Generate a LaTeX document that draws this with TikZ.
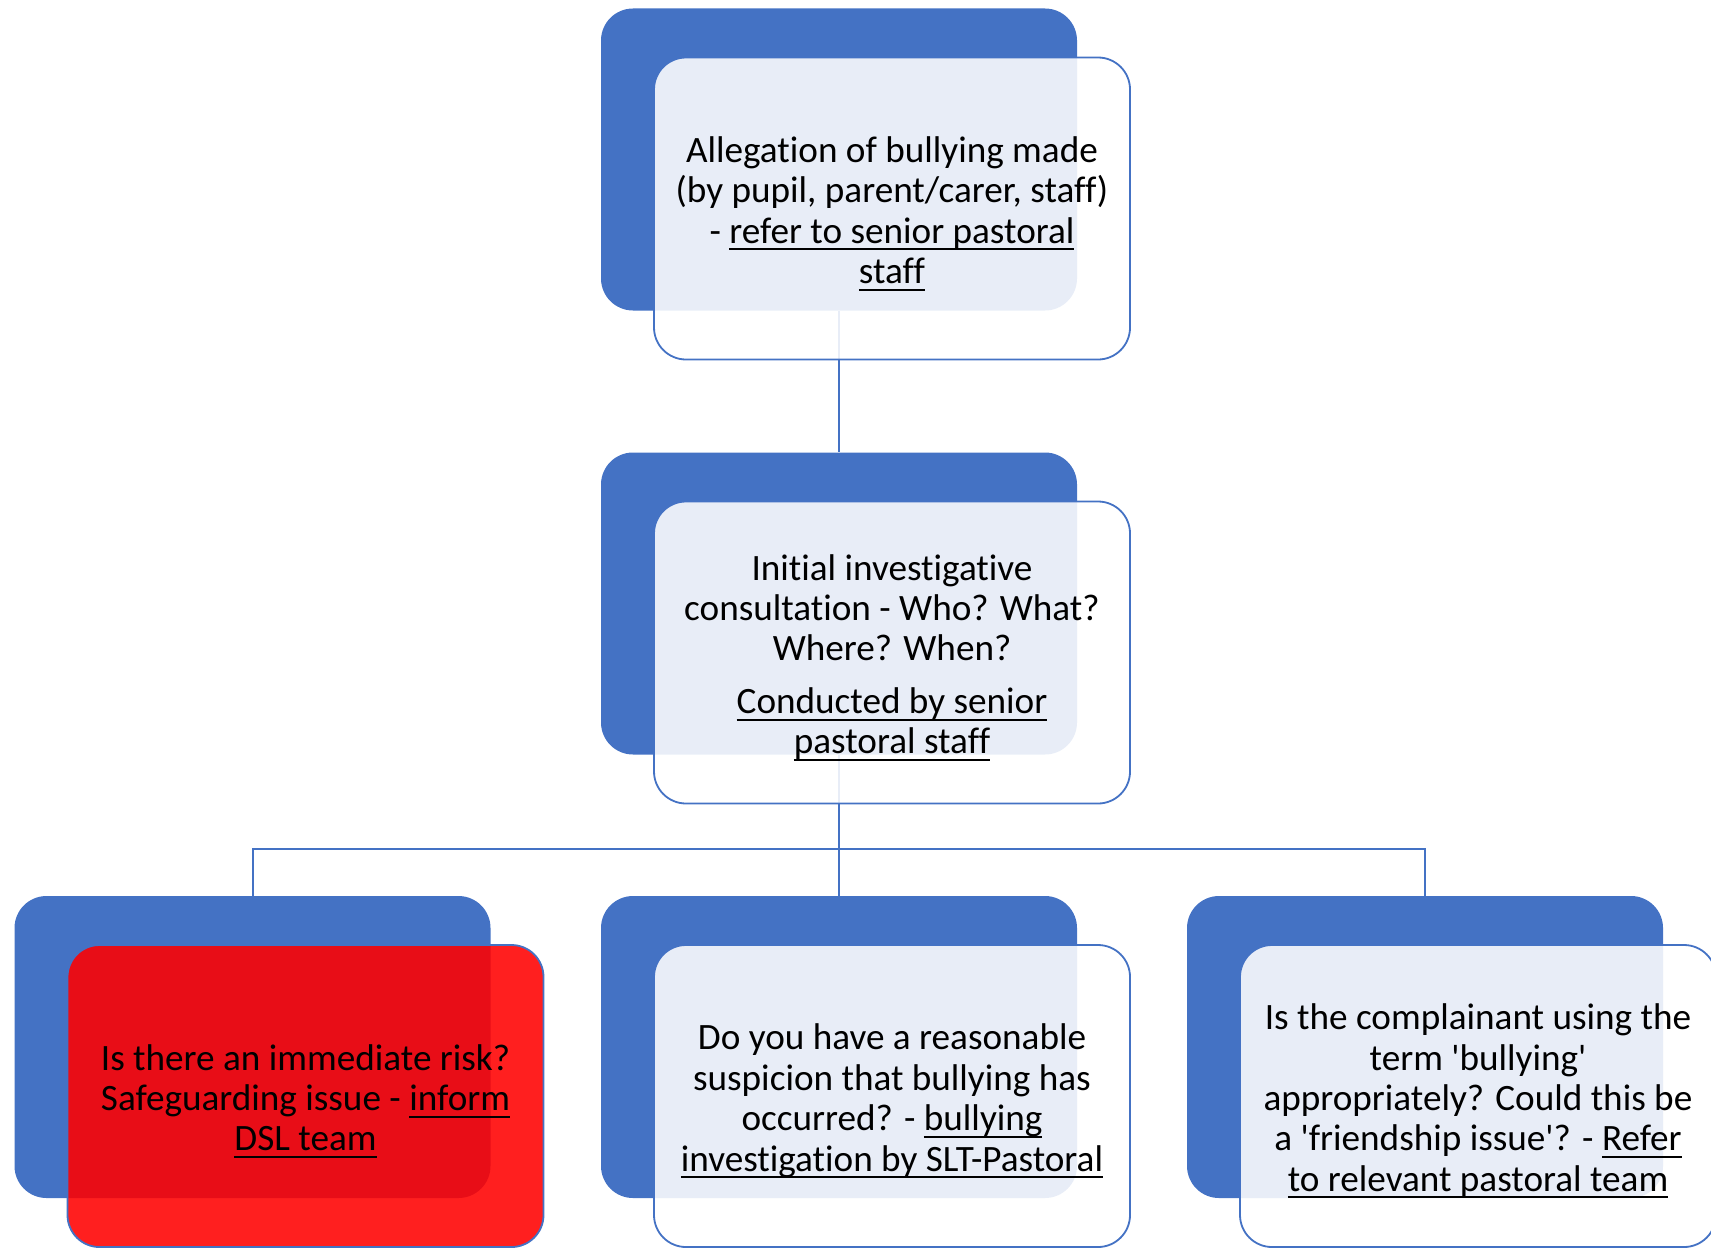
\documentclass[tikz,border=0pt]{standalone}
\usepackage{fontspec}
\setmainfont{Carlito}[Ligatures={TeXOff,CommonOff}]
\usetikzlibrary{calc}
\definecolor{accent}{HTML}{4472C4}
\definecolor{alert}{HTML}{FF0000}
\newcommand{\uln}[1]{\setbox0\hbox{#1}\rlap{\rule[-3.6pt]{\wd0}{1pt}}\box0}
\newcommand{\topgap}{\rule{0pt}{18pt}}

\begin{document}
\begin{tikzpicture}[x=1pt, y=1pt,
    every node/.style={font=\fontsize{18.6pt}{20.2pt}\selectfont},
    back/.style={rectangle, rounded corners=16pt, fill=accent,
                 minimum width=238pt, minimum height=151pt},
    card/.style={rectangle, rounded corners=16pt, draw=accent, line width=0.9pt,
                 fill=white, fill opacity=0.88, text opacity=1,
                 minimum width=238pt, minimum height=151pt, align=center},
    link/.style={draw=accent, line width=1pt}
]
    \useasboundingbox (0,0) rectangle (855.5,-623.5);

    % back plates
    \node[back] (b1) at (419.5,-79.75)  {};
    \node[back] (b2) at (419.5,-301.75) {};
    \node[back] (b3) at (126.25,-523.5) {};
    \node[back] (b4) at (419.5,-523.5)  {};
    \node[back] (b5) at (712.5,-523.5)  {};

    \coordinate (fork) at (419.5,-424.5);
    \draw[link] (b1.south) -- (b2.north);
    \draw[link] (b2.south) -- (fork) -- (b4.north);
    \draw[link] (b3.north) |- (fork) -| (b5.north);

    % front cards
    \node[card] (allege) at (446,-104.25) {\topgap Allegation of bullying made\\
        (by pupil, parent/carer, staff)\\
        - \uln{refer to senior pastoral}\\
        \uln{staff}};
    \node[card] (consult) at (446,-326.25) {\topgap Initial investigative\\
        consultation - Who? What?\\
        Where? When?\\[6pt]
        \uln{Conducted by senior}\\
        \uln{pastoral staff}};
    \node[card, fill=alert] (risk) at (152.75,-548) {\topgap Is there an immediate risk?\\
        Safeguarding issue - \uln{inform}\\
        \uln{DSL team}};
    \node[card] (suspect) at (446,-548) {\topgap Do you have a reasonable\\
        suspicion that bullying has\\
        occurred? - \uln{bullying}\\
        \uln{investigation by SLT-Pastoral}};
    \node[card] (friend) at (739,-548) {\topgap Is the complainant using the\\
        term 'bullying'\\
        appropriately? Could this be\\
        a 'friendship issue'? - \uln{Refer}\\
        \uln{to relevant pastoral team}};
\end{tikzpicture}
\end{document}
